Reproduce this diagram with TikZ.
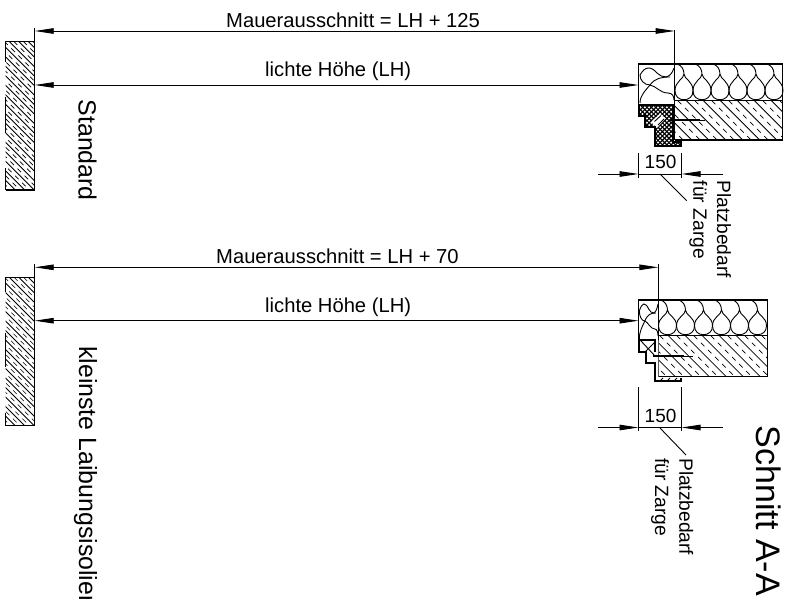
\documentclass[tikz,border=0pt]{standalone}
\usepackage{fontspec}
\setmainfont{Liberation Sans}
\usetikzlibrary{arrows.meta}
\tikzset{
 dimline/.style={line width=0.9pt,-{Triangle[length=19pt,width=5.5pt]}},
 bothline/.style={line width=0.9pt,{Triangle[length=19pt,width=5.5pt]}-{Triangle[length=19pt,width=5.5pt]}},
 extline/.style={line width=0.9pt},
 outline/.style={line width=1.5pt,line join=miter},
 thinline/.style={line width=0.9pt},
 dimtext/.style={inner sep=0pt,anchor=base west,font=\fontsize{20.2}{22}\selectfont},
 numtext/.style={inner sep=0pt,anchor=base west,font=\fontsize{19}{21}\selectfont},
 sidetext/.style={inner sep=0pt,anchor=base west,rotate=-90,font=\fontsize{19.2}{21}\selectfont},
 bigtext/.style={inner sep=0pt,anchor=base west,rotate=-90,font=\fontsize{24.9}{28}\selectfont},
 hugetext/.style={inner sep=0pt,anchor=base west,rotate=-90,font=\fontsize{34}{38}\selectfont},
}
% hatching: x0 y0 x1 y1 spacing
\newcommand{\hatchbox}[5]{%
 \begin{scope}
 \clip (#1,#2) rectangle (#3,#4);
 \pgfmathsetmacro{\hh}{#4-#2}
 \pgfmathsetmacro{\xst}{#1-\hh}
 \pgfmathsetmacro{\xsn}{\xst+#5}
 \foreach \xx in {\xst,\xsn,...,#3}{
  \draw[line width=0.8pt] (\xx,#2) -- ++(\hh,\hh);
  \draw[line width=0.7pt,dash pattern=on 5pt off 5pt] (\xx+0.5*#5,#2) -- ++(\hh,\hh);
 }
 \end{scope}}
% drop pointing up: cx top bottom halfwidth
\newcommand{\dropcell}[4]{%
 \draw[thinline] (#1-7,#2) .. controls (#1-3,#2+1) and (#1,#2+5) .. (#1,#2+10)
  .. controls (#1,#2+15) and (#1-#4,#2+17) .. (#1-#4,#3-10)
  .. controls (#1-#4,#3-4) and (#1-5,#3-1) .. (#1,#3-1)
  .. controls (#1+5,#3-1) and (#1+#4,#3-4) .. (#1+#4,#3-10)
  .. controls (#1+#4,#2+17) and (#1,#2+15) .. (#1,#2+10);}
% side lobes inside a 36 x 40 cell
\newcommand{\sidelobes}{%
 \draw[thinline] (1.5,11) .. controls (6.5,2) and (12.5,2) .. (18.5,9)
   .. controls (23.5,14) and (31.5,16) .. (35.5,4);
 \draw[thinline] (31.5,13) .. controls (23.5,13) and (16.5,14) .. (11.5,21)
   .. controls (7.5,26) and (1.5,31) .. (1.5,39);
 \draw[thinline] (1.5,11) .. controls (1.5,16) and (5.5,21) .. (11.5,21)
   .. controls (17.5,22) and (21.5,29) .. (29.5,29)
   .. controls (33.5,29) and (35.5,32) .. (35.5,36);}
\begin{document}
\begin{tikzpicture}[x=1pt,y=-1pt]
\useasboundingbox (0,0) rectangle (792,599);
\clip (0,0) rectangle (792,599);
\fill[white] (0,0) rectangle (792,599);

% ===== upper wall
\hatchbox{5.7}{41.3}{34.7}{190}{9.5}
\draw[outline] (5.7,62) -- (5.7,41.3) -- (34.7,41.3);
\draw[outline] (5.7,190) -- (5.7,168);
\draw[outline] (5.7,97) -- (5.7,133);
\draw[outline] (5.7,190) -- (34.7,190);
\coordinate (a1l) at (34.7,31); \coordinate (a1r) at (674.7,31);
\coordinate (a2l) at (34.7,85); \coordinate (a2r) at (638.5,85);
\coordinate (a1t) at (34.7,28);\coordinate (a1b) at (34.7,190);
\draw[extline] (a1t) -- (a1b);
\draw[bothline] (a1l) -- (a1r);
\draw[bothline] (a2l) -- (a2r);
\node[dimtext] (t1) at (226,27.5) {Mauerausschnitt = LH + 125};
\node[dimtext] (t2) at (265,76.5) {lichte Höhe (LH)};
\node[bigtext] (t3) at (78.5,99.5) {Standard};

% ===== upper section
\foreach \c in {684,702,720,738,756,774}{\dropcell{\c}{64}{100.7}{9}}
\begin{scope}[shift={(638.5,64)}]\sidelobes\end{scope}
\hatchbox{674.7}{100.7}{782.7}{140}{17}
\draw[outline] (638.5,104) -- (638.5,64) -- (782.7,64) -- (782.7,140) -- (674.7,140);
\draw[outline] (674.7,100.7) -- (782.7,100.7);
\coordinate (v1t) at (674.7,30); \coordinate (v1b) at (674.7,140);
\draw[extline] (v1t) -- (674.7,100.7);
\draw[outline] (674.7,100.7) -- (v1b);
% frame upper
\begin{scope}
 \clip (639,104.7) -- (639,116) -- (645,116) -- (645,127.3) -- (655,127.3) -- (655,145.7) -- (680.7,145.7) -- (680.7,141.7) -- (673.3,141.7) -- (673.3,104.7) -- cycle;
 \fill[white] (630,100) rectangle (690,150);
 \foreach \k in {-60,-55.6,...,60}{
  \draw[line width=1.15pt] (660+\k,100) -- ++(50,50);
  \draw[line width=1.15pt] (660+\k,150) -- ++(50,-50);
 }
 \fill[white] (651,122) -- (660,113.5) -- (665.5,118.5) -- (657,128) -- cycle;
 \draw[thinline] (654.5,121.5) -- (661,115.5) (658,125) -- (664,119);
\end{scope}
\draw[line width=1.8pt] (639,104.7) -- (639,116) -- (645,116) -- (645,127.3) -- (655,127.3) -- (655,145.7) -- (680.7,145.7) -- (680.7,141.7) -- (673.3,141.7) -- (673.3,104.7) -- cycle;
\coordinate (s1a) at (670,120); \coordinate (s1b) at (700,120); \coordinate (s1c) at (705,120);
\draw[line width=2pt] (s1a) -- (s1b);
\draw[line width=0.8pt] (s1b) -- (s1c);
% dim 150 upper
\coordinate (d1a) at (638.5,153); \coordinate (d1b) at (638.5,178);
\coordinate (d1c) at (681.5,153); \coordinate (d1d) at (681.5,178);
\coordinate (d1l) at (598,174); \coordinate (d1lt) at (638.5,174);
\coordinate (d1r) at (723,174); \coordinate (d1rt) at (681.5,174);
\draw[extline] (d1a) -- (d1b); \draw[extline] (d1c) -- (d1d);
\draw[dimline] (d1l) -- (d1lt); \draw[dimline] (d1r) -- (d1rt);
\draw[extline] (d1lt) -- (d1rt);
\node[numtext] (n1) at (644.5,168.3) {150};
\coordinate (l1a) at (660,174); \coordinate (l1b) at (686.7,200.7);
\draw[extline] (l1a) -- (l1b);
\node[sidetext] (p1) at (717,180.7) {Platzbedarf};
\node[sidetext] (z1) at (693.3,180.7) {für Zarge};

% ===== lower wall
\hatchbox{5.7}{277.3}{34.7}{425.7}{9.5}
\draw[outline] (5.7,292) -- (5.7,277.3) -- (34.7,277.3);
\draw[outline] (5.7,333) -- (5.7,367);
\draw[outline] (5.7,413) -- (5.7,425.7) -- (34.7,425.7);
\coordinate (b1l) at (34.7,267.3); \coordinate (b1r) at (658.3,267.3);
\coordinate (b2l) at (34.7,320.7); \coordinate (b2r) at (638.5,320.7);
\coordinate (b1t) at (34.7,264);\coordinate (b1b) at (34.7,425.7);
\draw[extline] (b1t) -- (b1b);
\draw[bothline] (b1l) -- (b1r);
\draw[bothline] (b2l) -- (b2r);
\node[dimtext] (t4) at (216,263.5) {Mauerausschnitt = LH + 70};
\node[dimtext] (t5) at (265,312.5) {lichte Höhe (LH)};
\node[bigtext] (t6) at (79,346) {kleinste Laibungsisolier};

% ===== lower section
\foreach \c in {667.5,685.5,703.5,721.5,739.5,757.5}{\dropcell{\c}{300}{335.7}{9}}
\begin{scope}[shift={(638.5,300)},xscale=0.55]\sidelobes\end{scope}
\hatchbox{658.3}{335.7}{767.3}{376.7}{17}
\draw[outline] (638.5,340) -- (638.5,300) -- (767.3,300) -- (767.3,376.7) -- (658.3,376.7);
\draw[outline] (658.3,335.7) -- (767.3,335.7);
\coordinate (v2t) at (658.3,264); \coordinate (v2b) at (658.3,376.7);
\draw[extline] (v2t) -- (658.3,335.7);
\draw[outline] (658.3,335.7) -- (v2b);
% frame lower
\fill[white] (639,340) -- (639,351.7) -- (646,351.7) -- (646,363.3) -- (655,363.3) -- (655,381) -- (680.7,381) -- (680.7,377.7) -- (658.3,377.7) -- (658.3,340) -- cycle;
\draw[thinline] (641,341) -- (655,356) (655,342) -- (645,352);
\draw[thinline] (660,381) -- (663,378) (667,381) -- (670,378) (674,381) -- (677,378);
\draw[line width=1.8pt] (639,340) -- (639,351.7) -- (646,351.7) -- (646,363.3) -- (655,363.3) -- (655,381) -- (680.7,381) -- (680.7,377.7);
\draw[outline] (639,340) -- (655,340) -- (655,352);
\coordinate (s2a) at (653,356); \coordinate (s2b) at (684,356); \coordinate (s2c) at (693,356);
\draw[line width=2pt] (s2a) -- (s2b);
\draw[line width=0.8pt] (s2b) -- (s2c);
% dim 150 lower
\coordinate (d2a) at (638.5,387); \coordinate (d2b) at (638.5,431);
\coordinate (d2c) at (681.5,387); \coordinate (d2d) at (681.5,431);
\coordinate (d2l) at (598,427.5); \coordinate (d2lt) at (638.5,427.5);
\coordinate (d2r) at (723,427.5); \coordinate (d2rt) at (681.5,427.5);
\draw[extline] (d2a) -- (d2b); \draw[extline] (d2c) -- (d2d);
\draw[dimline] (d2l) -- (d2lt); \draw[dimline] (d2r) -- (d2rt);
\draw[extline] (d2lt) -- (d2rt);
\node[numtext] (n2) at (644.5,422.7) {150};
\coordinate (l2a) at (660,428); \coordinate (l2b) at (686,455);
\draw[extline] (l2a) -- (l2b);
\node[sidetext] (p2) at (679.3,458) {Platzbedarf};
\node[sidetext] (z2) at (655,458) {für Zarge};
\node[hugetext] (s) at (756.7,425.5) {Schnitt A-A};
\end{tikzpicture}
\end{document}
